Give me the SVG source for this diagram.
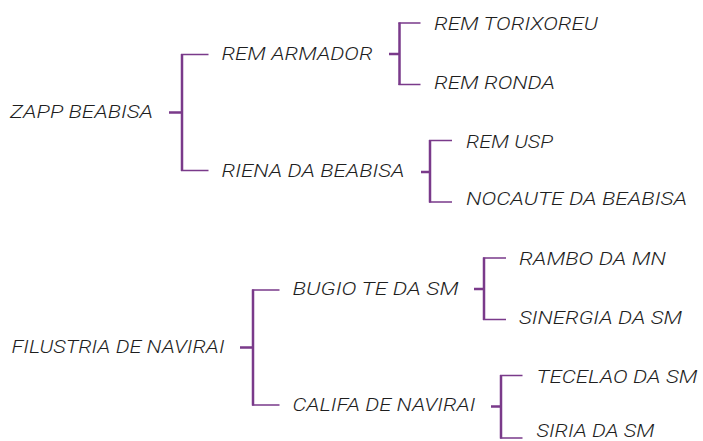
<svg xmlns="http://www.w3.org/2000/svg" width="703" height="441" viewBox="0 0 703 441">
<style>
.t{font-family:"Roboto","Liberation Sans",Arial,sans-serif;font-weight:300;font-style:italic;font-size:19px;fill:#1e1e1e;}
.v{stroke:#7a3a8a;stroke-width:2.5;fill:none;}
.h{stroke:#7a3a8a;stroke-width:1.6;fill:none;}
</style>
<rect width="703" height="441" fill="#fff"/>
<g id="connectors">
<path class="v" d="M169 112.5H182M182 54V171"/><path class="h" d="M181 54.5H208.5M181 170.5H208.5"/>
<path class="v" d="M389 54H399.5M399.5 22.5V85"/><path class="h" d="M398.5 23H420.5M398.5 84.5H420.5"/>
<path class="v" d="M421 172H430M430 140V202.5"/><path class="h" d="M429 140.5H452M429 202H452"/>
<path class="v" d="M240 347.5H253M253 289.5V405.5"/><path class="h" d="M252 290H279.5M252 405H279.5"/>
<path class="v" d="M474 289H484M484 257.5V320"/><path class="h" d="M483 258H506M483 319.5H506"/>
<path class="v" d="M491 406.5H501M501 375V438.5"/><path class="h" d="M500 375.5H522.5M500 438H522.5"/>
</g>
<g id="n-zapp"><text class="t" x="10" y="117.5" textLength="143" lengthAdjust="spacingAndGlyphs">ZAPP BEABISA</text></g>
<g id="n-remarmador"><text class="t" x="221.5" y="60" textLength="151" lengthAdjust="spacingAndGlyphs">REM ARMADOR</text></g>
<g id="n-riena"><text class="t" x="221.5" y="176.7" textLength="183" lengthAdjust="spacingAndGlyphs">RIENA DA BEABISA</text></g>
<g id="n-remtorixoreu"><text class="t" x="434" y="30" textLength="164" lengthAdjust="spacingAndGlyphs">REM TORIXOREU</text></g>
<g id="n-remronda"><text class="t" x="434" y="89.3" textLength="121" lengthAdjust="spacingAndGlyphs">REM RONDA</text></g>
<g id="n-remusp"><text class="t" x="466" y="148.3" textLength="87" lengthAdjust="spacingAndGlyphs">REM USP</text></g>
<g id="n-nocaute"><text class="t" x="466" y="205" textLength="221" lengthAdjust="spacingAndGlyphs">NOCAUTE DA BEABISA</text></g>
<g id="n-filustria"><text class="t" x="11.5" y="352.7" textLength="213" lengthAdjust="spacingAndGlyphs">FILUSTRIA DE NAVIRAI</text></g>
<g id="n-bugio"><text class="t" x="292.5" y="294.7" textLength="166" lengthAdjust="spacingAndGlyphs">BUGIO TE DA SM</text></g>
<g id="n-califa"><text class="t" x="292.5" y="411.3" textLength="183" lengthAdjust="spacingAndGlyphs">CALIFA DE NAVIRAI</text></g>
<g id="n-rambo"><text class="t" x="519" y="265" textLength="147" lengthAdjust="spacingAndGlyphs">RAMBO DA MN</text></g>
<g id="n-sinergia"><text class="t" x="519" y="324" textLength="163" lengthAdjust="spacingAndGlyphs">SINERGIA DA SM</text></g>
<g id="n-tecelao"><text class="t" x="536.5" y="382.7" textLength="161" lengthAdjust="spacingAndGlyphs">TECELAO DA SM</text></g>
<g id="n-siria"><text class="t" x="536.5" y="436.5" textLength="118" lengthAdjust="spacingAndGlyphs">SIRIA DA SM</text></g>
</svg>
